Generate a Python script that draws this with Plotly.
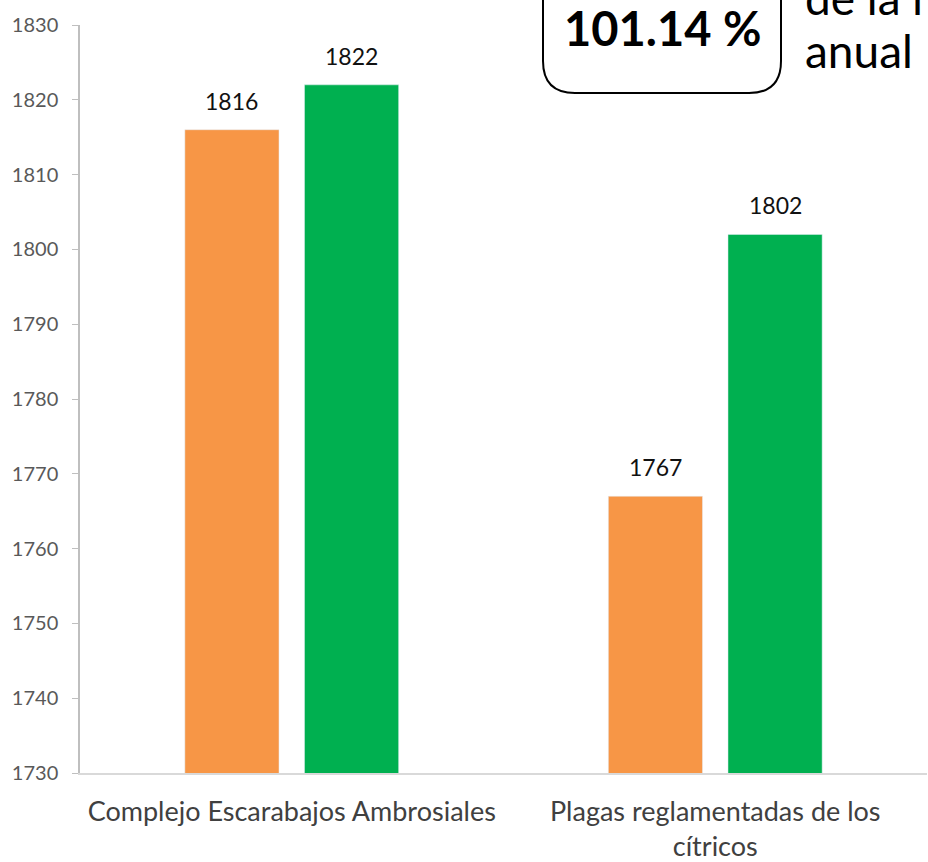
import plotly.graph_objects as go

categories = ["Complejo Escarabajos Ambrosiales", "Plagas reglamentadas de los<br>cítricos"]
programado = [1816, 1767]
realizado = [1822, 1802]
y_ticks = [1730, 1740, 1750, 1760, 1770, 1780, 1790, 1800, 1810, 1820, 1830]

FONT = "Lato"
W, H = 928, 862
ml, mr, mt, mb = 80, 1, 25, 89
pw, ph = W - ml - mr, H - mt - mb

def px_x(sx):
    return (sx - ml) / pw

def px_y(sy):
    return (H - mb - sy) / ph

BARGAP, GROUPGAP = 0.435, 0.213
shift = (1 - BARGAP) / 4

fig = go.Figure()
fig.add_trace(go.Bar(x=categories, y=programado, name="Programado", marker_color="#F79646"))
fig.add_trace(go.Bar(x=categories, y=realizado, name="Realizado", marker_color="#00B050"))

for i, (a, b) in enumerate(zip(programado, realizado)):
    for off, v in ((-shift, a), (shift, b)):
        fig.add_annotation(x=i + off, y=v, xref="x", yref="y", text=str(v), showarrow=False,
                           xanchor="center", yanchor="bottom", yshift=13,
                           font=dict(size=23, color="#111111", family=FONT))

# rounded box
x0, x1 = px_x(543), px_x(781)
y0, y1 = px_y(93), px_y(-30)
rx, ry = 32 / pw, 32 / ph
path = (f"M {x0+rx},{y0} L {x1-rx},{y0} Q {x1},{y0} {x1},{y0+ry} "
        f"L {x1},{y1} L {x0},{y1} L {x0},{y0+ry} Q {x0},{y0} {x0+rx},{y0} Z")
fig.add_shape(type="path", path=path, xref="paper", yref="paper",
              line=dict(color="#000000", width=2), fillcolor="rgba(0,0,0,0)")

fig.add_annotation(x=px_x(662), y=px_y(28), xref="paper", yref="paper",
                   text="<b>101.14 %</b>", showarrow=False, xanchor="center", yanchor="middle",
                   font=dict(size=47, color="#000000", family=FONT))
fig.add_annotation(x=px_x(803), y=px_y(-3), xref="paper", yref="paper",
                   text="de la meta", showarrow=False, xanchor="left", yanchor="middle",
                   font=dict(size=46, color="#000000", family=FONT))
fig.add_annotation(x=px_x(803), y=px_y(50), xref="paper", yref="paper",
                   text="anual", showarrow=False, xanchor="left", yanchor="middle",
                   font=dict(size=46, color="#000000", family=FONT))

fig.update_layout(
    width=W, height=H,
    margin=dict(l=ml, r=mr, t=mt, b=mb, pad=0),
    paper_bgcolor="white", plot_bgcolor="white",
    barmode="group", bargap=BARGAP, bargroupgap=GROUPGAP,
    showlegend=False,
    font=dict(family=FONT),
)
fig.update_yaxes(range=[1730, 1830], tickvals=y_ticks, showgrid=False,
                 showline=True, linecolor="#BFBFBF", linewidth=1.5,
                 ticks="outside", ticklen=6, tickcolor="#BFBFBF", ticklabelstandoff=10,
                 tickfont=dict(size=20, color="#595959", family=FONT), zeroline=False)
fig.update_xaxes(showgrid=False, showline=True, linecolor="#D9D9D9", linewidth=1.5,
                 ticks="", ticklabelstandoff=14,
                 tickfont=dict(size=27, color="#404040", family=FONT))

fig.write_html("out.html", config={"displayModeBar": False},
               post_script="document.body.style.margin='0';document.body.style.overflow='hidden';")
